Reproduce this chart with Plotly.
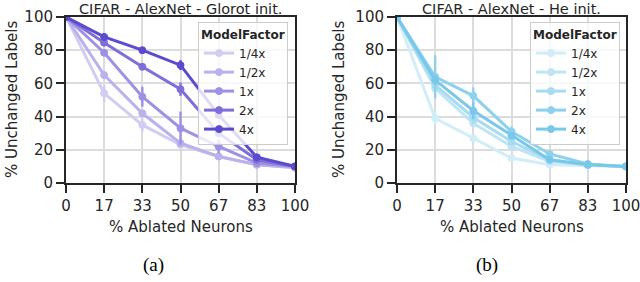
import plotly.graph_objects as go

# ---------------- data ----------------
x_vals = [0, 16.67, 33.33, 50, 66.67, 83.33, 100]
x_ticklabels = ["0", "17", "33", "50", "67", "83", "100"]
factors = ["1/4x", "1/2x", "1x", "2x", "4x"]

glorot_quarter = [100, 54, 35, 23, 16, 11, 9]
glorot_half = [100, 65, 42, 24, 16, 11, 9.5]
glorot_1 = [100, 78.5, 52, 33, 22, 12, 10]
glorot_2 = [100, 84.5, 70, 56.5, 30, 14, 10]
glorot_4 = [100, 88, 80, 71, 41, 15.5, 10]

glorot_err_quarter = [0, 5, 4, 2, 1, 0.5, 0.5]
glorot_err_half = [0, 2, 2, 2, 1, 0.5, 0.5]
glorot_err_1 = [0, 2, 6, 10, 4, 1, 0.5]
glorot_err_2 = [0, 2, 2, 4, 2, 1, 0.5]
glorot_err_4 = [0, 1, 1, 3, 2, 1, 0.5]

he_quarter = [100, 39, 27, 15, 11, 10.5, 10]
he_half = [100, 57, 36, 22, 13, 11, 10]
he_1 = [100, 59, 39.5, 25, 14, 11, 10]
he_2 = [100, 64, 52.5, 31, 17.5, 11.5, 10]
he_4 = [100, 62, 43.5, 28.5, 14, 11, 10]

he_err_quarter = [0, 4, 2, 1, 1, 0.5, 0.5]
he_err_half = [0, 2, 2, 1, 1, 0.5, 0.5]
he_err_1 = [0, 2, 4, 2, 1, 0.5, 0.5]
he_err_2 = [0, 13, 5, 3, 2, 1, 0.5]
he_err_4 = [0, 3, 5, 2, 1, 0.5, 0.5]

glorot_series = [glorot_quarter, glorot_half, glorot_1, glorot_2, glorot_4]
glorot_errs = [glorot_err_quarter, glorot_err_half, glorot_err_1, glorot_err_2, glorot_err_4]
he_series = [he_quarter, he_half, he_1, he_2, he_4]
he_errs = [he_err_quarter, he_err_half, he_err_1, he_err_2, he_err_4]

purples = ["#d3ccf1", "#bbb1ec", "#9e90e4", "#7f6ed9", "#5b4bce"]
blues = ["#d0edf8", "#bde5f5", "#a6dbf1", "#8ed1ee", "#78c8ea"]

titles = ["CIFAR - AlexNet - Glorot init.", "CIFAR - AlexNet - He init."]
panel_labels = ["(a)", "(b)"]
x_title = "% Ablated Neurons"
y_title = "% Unchanged Labels"

# ---------------- figure ----------------
fig = go.Figure()
FONT = "DejaVu Sans"
FS = 15
W, H = 640, 282

def add_panel(series, errs, colors, xa, ya, legend):
    for name, ys, es, c in zip(factors, series, errs, colors):
        fig.add_trace(go.Scatter(
            x=x_vals, y=ys, name=name, mode="lines+markers",
            line=dict(color=c, width=3),
            marker=dict(symbol="circle", size=7, color=c,
                        line=dict(color=c, width=1)),
            error_y=dict(type="data", array=es, visible=True,
                         color=c, thickness=2.4, width=0),
            xaxis=xa, yaxis=ya, legend=legend,
        ))

add_panel(glorot_series, glorot_errs, purples, "x", "y", "legend")
add_panel(he_series, he_errs, blues, "x2", "y2", "legend2")

dom_x = [[66 / W, 295 / W], [397 / W, 626 / W]]
dom_y = [(H - 183) / H, (H - 17) / H]

axis_common = dict(
    showline=True, linecolor="#262626", linewidth=2, mirror=True,
    showgrid=True, gridcolor="#dcdcdc", gridwidth=1.5,
    ticks="outside", ticklen=8, tickwidth=2, tickcolor="#262626",
    tickfont=dict(family=FONT, size=FS, color="#262626"),
    zeroline=False, automargin=False, ticklabeloverflow="allow",
)

layout = dict(
    width=W, height=H,
    margin=dict(l=0, r=0, t=0, b=0),
    paper_bgcolor="white", plot_bgcolor="white",
    font=dict(family=FONT, size=FS, color="#262626"),
)
for i, suf in enumerate(["", "2"]):
    layout["xaxis" + suf] = dict(
        axis_common, domain=dom_x[i], range=[0, 100],
        tickmode="array", tickvals=x_vals, ticktext=x_ticklabels,
        anchor="y" + suf,
    )
    layout["yaxis" + suf] = dict(
        axis_common, domain=dom_y, range=[0, 100],
        tickmode="array", tickvals=[0, 20, 40, 60, 80, 100],
        anchor="x" + suf,
    )

leg_common = dict(
    bgcolor="rgba(255,255,255,0.8)", bordercolor="#cccccc", borderwidth=1,
    font=dict(family=FONT, size=12, color="#262626"),
    xanchor="left", yanchor="top", tracegroupgap=0, itemwidth=30,
    title=dict(text="<b>ModelFactor</b>", font=dict(family=FONT, size=12)),
)
layout["legend"] = dict(leg_common, x=198 / W, y=(H - 22) / H)
layout["legend2"] = dict(leg_common, x=530 / W, y=(H - 22) / H)

fig.update_layout(**layout)

centers = [(dom_x[0][0] + dom_x[0][1]) / 2, (dom_x[1][0] + dom_x[1][1]) / 2]
ytitle_x = [12 / W, 339 / W]
for i in range(2):
    fig.add_annotation(
        x=centers[i], y=(H - 8.5) / H, xref="paper", yref="paper",
        text=titles[i], showarrow=False, xanchor="center", yanchor="middle",
        font=dict(family=FONT, size=14.5, color="#262626"),
    )
    fig.add_annotation(
        x=centers[i], y=(H - 227) / H, xref="paper", yref="paper",
        text=x_title, showarrow=False, xanchor="center", yanchor="middle",
        font=dict(family=FONT, size=FS, color="#262626"),
    )
    fig.add_annotation(
        x=ytitle_x[i], y=(dom_y[0] + dom_y[1]) / 2, xref="paper", yref="paper",
        text=y_title, showarrow=False, xanchor="center", yanchor="middle",
        textangle=-90,
        font=dict(family=FONT, size=FS, color="#262626"),
    )
    fig.add_annotation(
        x=[153 / W, 487 / W][i], y=(H - 265) / H, xref="paper", yref="paper",
        text=panel_labels[i], showarrow=False, xanchor="center", yanchor="middle",
        font=dict(family="Liberation Serif", size=19, color="black"),
    )

fig.write_html("out.html", config={"displayModeBar": False},
               post_script="document.body.style.margin='0px';")
